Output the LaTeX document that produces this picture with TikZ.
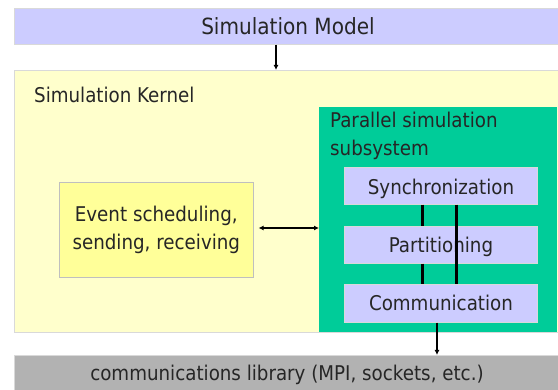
\documentclass[tikz,border=0pt]{standalone}
\usepackage{fontspec}
\setmainfont{DejaVu Sans Condensed}
\usetikzlibrary{arrows.meta}
\definecolor{lav}{HTML}{CCCCFF}
\definecolor{kern}{HTML}{FFFFCC}
\definecolor{grn}{HTML}{00CC99}
\definecolor{evt}{HTML}{FFFF99}
\definecolor{libgray}{HTML}{B2B2B2}
\tikzset{
  layer/.style={fill=#1, draw=black!15, line width=0.6pt},
  txt/.style={font=\fontsize{20.3}{28}\selectfont, text=black!85, inner sep=0pt},
  bigtxt/.style={txt, font=\fontsize{22.3}{28}\selectfont},
  conn/.style={line width=1.6pt, -{Latex[length=5pt,width=5pt]}},
  both/.style={line width=1.6pt, {Latex[length=5pt,width=5pt]}-{Latex[length=5pt,width=5pt]}},
  bar/.style={line width=3pt}
}
\begin{document}
\begin{tikzpicture}[x=1pt,y=-1pt]
\useasboundingbox (0,0) rectangle (558,390);
% layers
\node[layer=lav, minimum width=545pt, minimum height=36pt, anchor=north west] (model) at (14,8) {};
\node[bigtxt, anchor=base] at (288,35) {Simulation Model};
\node[layer=kern, minimum width=545pt, minimum height=262pt, anchor=north west] (kernel) at (14,70) {};
\node[txt, anchor=base west] at (34,103) {Simulation Kernel};
\node[layer=libgray, minimum width=545pt, minimum height=36pt, anchor=north west] (lib) at (14,355) {};
\node[txt, anchor=base] at (287,381) {communications library (MPI, sockets, etc.)};
% parallel subsystem
\node[fill=grn, minimum width=238pt, minimum height=225pt, anchor=north west, inner sep=0pt] (par) at (319,107) {};
\node[txt, anchor=base west] at (330,128) {Parallel simulation};
\node[txt, anchor=base west] at (330,156) {subsystem};
\node[layer=lav, minimum width=193pt, minimum height=37pt, anchor=north west] (sync) at (344,167) {};
\node[txt, anchor=base] at (441,195) {Synchronization};
\node[layer=lav, minimum width=193pt, minimum height=37pt, anchor=north west] (part) at (344,226) {};
\node[layer=lav, minimum width=193pt, minimum height=38pt, anchor=north west] (comm) at (344,284) {};
\node[txt, anchor=base] at (441,311) {Communication};
% event handling
\node[layer=evt, draw=black!25, minimum width=194pt, minimum height=95pt, anchor=north west] (evt) at (59,182) {};
\node[txt, align=center] at (evt.center) {Event scheduling,\\sending, receiving};
% links between the subsystem layers
\draw[bar] (sync.south -| 422,0) -- (part.north -| 422,0);
\draw[bar] (part.south -| 422,0) -- (comm.north -| 422,0);
\node[txt, anchor=base] at (441,253) {Partitioning};
\draw[bar] (sync.south -| 456,0) -- (comm.north -| 456,0);
% arrows
\draw[conn] (model.south -| 276,0) -- (kernel.north -| 276,0);
\draw[both] (evt.east |- 0,228) ++(5,0) -- (par.west |- 0,228);
\draw[conn] (comm.south -| 437,0) -- (lib.north -| 437,0);
\end{tikzpicture}
\end{document}
